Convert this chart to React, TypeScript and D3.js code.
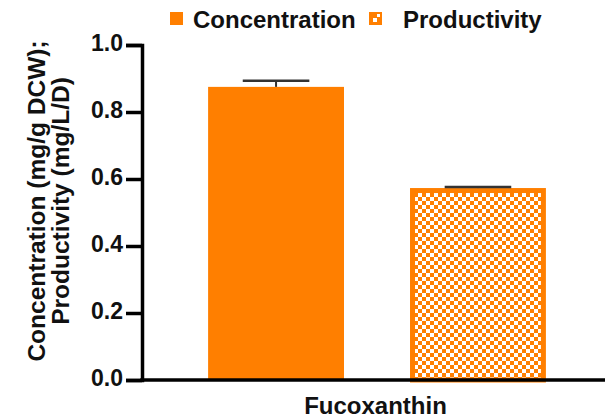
import React, { useRef, useEffect } from 'react';
import * as d3 from 'd3';

const categories = ['Concentration', 'Productivity'];
const values = [0.875, 0.573];
const errors = [0.018, 0.003];
const yTicks = [0, 0.2, 0.4, 0.6, 0.8, 1.0];
const groupLabel = 'Fucoxanthin';
const yTitle = ['Concentration (mg/g DCW);', 'Productivity (mg/L/D)'];

const ORANGE = '#FF7F00';
const FONT = "'Liberation Sans', Arial, sans-serif";

const createChart = (svg: d3.Selection<SVGSVGElement, unknown, null, undefined>): void => {
    const margin = { top: 45, right: 0, bottom: 40, left: 142 };
    const width = 605 - margin.left - margin.right;
    const height = 420 - margin.top - margin.bottom;

    svg.selectAll('*').remove();

    // checker pattern for the second bar
    const defs = svg.append('defs');
    const pat = defs.append('pattern')
        .attr('id', 'checker')
        .attr('patternUnits', 'userSpaceOnUse')
        .attr('width', 8)
        .attr('height', 8);
    pat.append('rect').attr('width', 8).attr('height', 8).attr('fill', ORANGE);
    pat.append('rect').attr('x', 0).attr('y', 0).attr('width', 4).attr('height', 4).attr('fill', '#fff');
    pat.append('rect').attr('x', 4).attr('y', 4).attr('width', 4).attr('height', 4).attr('fill', '#fff');

    const x = d3.scaleBand()
        .range([0, width])
        .domain(categories)
        .paddingInner(0.327)
        .paddingOuter(0.31)
        .align(0.528);

    const y = d3.scaleLinear()
        .range([height, 0])
        .domain([0, 1]);

    const g = svg.append('g')
        .attr('transform', `translate(${margin.left},${margin.top})`);

    // bars
    g.selectAll('.bar')
        .data(categories)
        .enter().append('rect')
        .attr('class', 'bar')
        .attr('x', (d, i) => x(d)! + (i === 1 ? 2.5 : 0))
        .attr('y', (d, i) => y(values[i]) + (i === 1 ? 2.5 : 0))
        .attr('width', (d, i) => x.bandwidth() - (i === 1 ? 5 : 0))
        .attr('height', (d, i) => height - y(values[i]) - (i === 1 ? 2.5 : 0))
        .attr('fill', (d, i) => (i === 0 ? ORANGE : 'url(#checker)'))
        .attr('stroke', (d, i) => (i === 0 ? 'none' : ORANGE))
        .attr('stroke-width', 5);

    // error bars
    const capHalf = x.bandwidth() * 0.245;
    categories.forEach((c, i) => {
        const cx = x(c)! + x.bandwidth() / 2;
        g.append('line')
            .attr('x1', cx).attr('x2', cx)
            .attr('y1', y(values[i])).attr('y2', y(values[i] + errors[i]))
            .attr('stroke', '#333').attr('stroke-width', 2);
        g.append('line')
            .attr('x1', cx - capHalf).attr('x2', cx + capHalf)
            .attr('y1', y(values[i] + errors[i])).attr('y2', y(values[i] + errors[i]))
            .attr('stroke', '#333').attr('stroke-width', 2.5);
    });

    // y axis
    const yAxis = g.append('g')
        .call(d3.axisLeft(y).tickValues(yTicks).tickFormat(d3.format('.1f')).tickSize(16).tickPadding(3));
    yAxis.select('.domain').attr('stroke', '#000').attr('stroke-width', 3.5);
    yAxis.selectAll('.tick line').attr('stroke', '#000').attr('stroke-width', 3.5);
    yAxis.selectAll('.tick text')
        .attr('font-family', FONT)
        .attr('font-weight', 'bold')
        .attr('font-size', 23)
        .attr('fill', '#111')
        .attr('dy', '0.22em');

    // x axis
    g.append('line')
        .attr('x1', -1.75).attr('x2', width)
        .attr('y1', height).attr('y2', height)
        .attr('stroke', '#000').attr('stroke-width', 3.5);

    g.append('text')
        .attr('x', width / 2 + 2)
        .attr('y', height + 34)
        .attr('text-anchor', 'middle')
        .attr('font-family', FONT)
        .attr('font-weight', 'bold')
        .attr('font-size', 24)
        .attr('fill', '#111')
        .text(groupLabel);

    // y title
    const cy = 201;
    yTitle.forEach((t, i) => {
        svg.append('text')
            .attr('transform', `translate(${45 + i * 24},${cy}) rotate(-90)`)
            .attr('text-anchor', 'middle')
            .attr('font-family', FONT)
            .attr('font-weight', 'bold')
            .attr('font-size', 24.5)
            .attr('fill', '#111')
            .text(t);
    });

    // legend
    const lg = svg.append('g');
    lg.append('rect').attr('x', 170).attr('y', 12).attr('width', 13).attr('height', 13).attr('fill', ORANGE);
    lg.append('text')
        .attr('x', 193).attr('y', 28)
        .attr('font-family', FONT).attr('font-weight', 'bold').attr('font-size', 24).attr('fill', '#111')
        .text(categories[0]);
    lg.append('rect').attr('x', 369).attr('y', 12).attr('width', 13).attr('height', 13).attr('fill', ORANGE);
    lg.append('rect').attr('x', 373).attr('y', 18).attr('width', 4).attr('height', 4).attr('fill', '#fff');
    lg.append('rect').attr('x', 377).attr('y', 14).attr('width', 3).attr('height', 3).attr('fill', '#fff');
    lg.append('text')
        .attr('x', 403).attr('y', 28)
        .attr('font-family', FONT).attr('font-weight', 'bold').attr('font-size', 24).attr('fill', '#111')
        .text(categories[1]);
};

const App: React.FC = () => {
    const ref = useRef<SVGSVGElement>(null);

    useEffect(() => {
        if (ref.current) {
            createChart(d3.select(ref.current));
        }
    }, []);

    return (
        <svg
            ref={ref}
            width={605}
            height={420}
            style={{ position: 'absolute', left: 0, top: 0, background: '#fff' }}
        />
    );
};

export default App;
